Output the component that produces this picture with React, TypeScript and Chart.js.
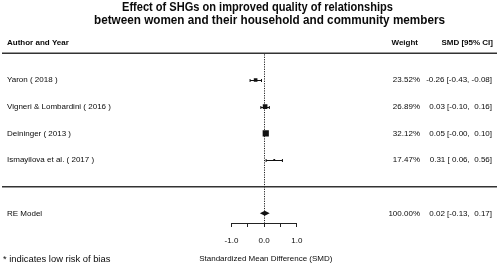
import React, { useEffect, useRef } from 'react';
import { Chart, registerables } from 'chart.js';

Chart.register(...registerables);

const titleLines = [
  'Effect of SHGs on improved quality of relationships',
  'between women and their household and community members',
];
const headers = ['Author and Year', 'Weight', 'SMD [95% CI]'];
const studies = [
  'Yaron ( 2018 )',
  'Vigneri & Lombardini ( 2016 )',
  'Deininger ( 2013 )',
  'Ismayilova et al. ( 2017 )',
];
const weights = [23.52, 26.89, 32.12, 17.47];
const smd = [-0.26, 0.03, 0.05, 0.31];
const ciLow = [-0.43, -0.1, -0.004, 0.06];
const ciHigh = [-0.08, 0.16, 0.1, 0.56];
const reLabel = 'RE Model';
const reWeight = 100.0;
const reSmd = 0.02;
const reLow = -0.13;
const reHigh = 0.17;
const xTicks = [-1, -0.5, 0, 0.5, 1];
const xTickLabels = ['-1.0', '', '0.0', '', '1.0'];
const xTitle = 'Standardized Mean Difference (SMD)';
const footnote = '* indicates low risk of bias';

const FONT = '"Liberation Sans", Arial, Helvetica, sans-serif';
const TEXT = '#0a0a0a';
const LINE = '#333';

const pad5 = (v: number) => {
  const s = v.toFixed(2);
  return s.length < 5 ? ' '.repeat(5 - s.length) + s : s;
};
const fmtCI = (e: number, lo: number, hi: number) =>
  `${e.toFixed(2)} [${pad5(lo)}, ${pad5(hi)}]`;

const minW = Math.min(...weights);
const maxW = Math.max(...weights);
const sideFor = (w: number) => 1.8 + ((w - minW) / (maxW - minW)) * 4.4;

const forestPlugin = {
  id: 'forest',
  beforeDatasetsDraw(chart: any) {
    const { ctx, scales, chartArea } = chart;
    const x = scales.x;
    const y = scales.y;
    ctx.save();
    ctx.strokeStyle = LINE;
    ctx.lineWidth = 1.5;
    [0, studies.length + 1].forEach((r) => {
      const py = y.getPixelForValue(r);
      ctx.beginPath();
      ctx.moveTo(2, py);
      ctx.lineTo(497, py);
      ctx.stroke();
    });
    const x0 = Math.round(x.getPixelForValue(0)) + 0.5;
    ctx.setLineDash([1.2, 1.2]);
    ctx.lineWidth = 1;
    ctx.strokeStyle = '#222';
    ctx.beginPath();
    ctx.moveTo(x0, y.getPixelForValue(0) + 1);
    ctx.lineTo(x0, chartArea.bottom);
    ctx.stroke();
    ctx.setLineDash([]);
    ctx.strokeStyle = '#111';
    ctx.lineWidth = 1;
    studies.forEach((_, i) => {
      const py = Math.round(y.getPixelForValue(i + 1)) + 0.5;
      const a = x.getPixelForValue(ciLow[i]);
      const b = x.getPixelForValue(ciHigh[i]);
      ctx.beginPath();
      ctx.moveTo(a, py);
      ctx.lineTo(b, py);
      ctx.moveTo(a, py - 1.5);
      ctx.lineTo(a, py + 1.5);
      ctx.moveTo(b, py - 1.5);
      ctx.lineTo(b, py + 1.5);
      ctx.stroke();
    });
    const ay = chartArea.bottom + 0.5;
    ctx.strokeStyle = '#222';
    ctx.beginPath();
    ctx.moveTo(x.getPixelForValue(xTicks[0]), ay);
    ctx.lineTo(x.getPixelForValue(xTicks[xTicks.length - 1]), ay);
    ctx.stroke();
    const ry = y.getPixelForValue(studies.length + 2);
    ctx.fillStyle = '#111';
    ctx.beginPath();
    ctx.moveTo(x.getPixelForValue(reLow), ry);
    ctx.lineTo(x.getPixelForValue(reSmd), ry - 2.5);
    ctx.lineTo(x.getPixelForValue(reHigh), ry);
    ctx.lineTo(x.getPixelForValue(reSmd), ry + 2.5);
    ctx.closePath();
    ctx.fill();
    ctx.restore();
  },
  afterDraw(chart: any) {
    const { ctx, scales } = chart;
    const y = scales.y;
    ctx.save();
    ctx.fillStyle = TEXT;
    ctx.textBaseline = 'middle';
    ctx.font = `bold 12px ${FONT}`;
    ctx.textAlign = 'center';
    ctx.fillText(titleLines[0], 257.5, 7.5, 271);
    ctx.fillText(titleLines[1], 269.5, 21, 351);
    const hy = y.getPixelForValue(-0.4);
    ctx.font = `bold 8px ${FONT}`;
    ctx.textAlign = 'left';
    ctx.fillText(headers[0], 7, hy);
    ctx.textAlign = 'right';
    ctx.fillText(headers[1], 418, hy);
    ctx.fillText(headers[2], 493, hy);
    ctx.font = `8px ${FONT}`;
    studies.forEach((s, i) => {
      const py = y.getPixelForValue(i + 1);
      ctx.textAlign = 'left';
      ctx.fillText(s, 7, py);
      ctx.textAlign = 'right';
      ctx.fillText(weights[i].toFixed(2) + '%', 420, py);
      ctx.fillText(fmtCI(smd[i], ciLow[i], ciHigh[i]), 492, py);
    });
    const ry = y.getPixelForValue(studies.length + 2);
    ctx.textAlign = 'left';
    ctx.fillText(reLabel, 7, ry);
    ctx.textAlign = 'right';
    ctx.fillText(reWeight.toFixed(2) + '%', 420, ry);
    ctx.fillText(fmtCI(reSmd, reLow, reHigh), 492, ry);
    ctx.font = `9.4px ${FONT}`;
    ctx.textAlign = 'left';
    ctx.fillText(footnote, 3, 259);
    ctx.restore();
  },
};

export default function App() {
  const ref = useRef<HTMLCanvasElement | null>(null);
  useEffect(() => {
    document.body.style.margin = '0';
    if (!ref.current) return;
    const chart = new Chart(ref.current, {
      type: 'scatter',
      data: {
        datasets: [
          {
            data: studies.map((_, i) => ({ x: smd[i], y: i + 1 })),
            pointStyle: 'rect',
            pointRadius: weights.map((w) => sideFor(w) / Math.SQRT2),
            backgroundColor: '#111',
            borderWidth: 0,
          },
        ],
      },
      options: {
        animation: false,
        responsive: false,
        maintainAspectRatio: false,
        devicePixelRatio: 1,
        layout: { padding: { top: 28, left: 36, right: 0, bottom: 0 } },
        plugins: {
          legend: { display: false },
          tooltip: { enabled: false },
          title: { display: false },
        },
        scales: {
          x: {
            type: 'linear',
            min: -(266.3 - 36) / 33,
            max: (500 - 266.3) / 33,
            afterBuildTicks: (s: any) => {
              s.ticks = xTicks.map((v) => ({ value: v }));
            },
            afterFit: (s: any) => {
              s.height = 44;
            },
            ticks: {
              autoSkip: false,
              maxRotation: 0,
              padding: 9,
              color: TEXT,
              font: { family: FONT, size: 8 },
              callback: (v: any) => {
                const i = xTicks.indexOf(Number(v));
                return i >= 0 ? xTickLabels[i] : '';
              },
            },
            grid: {
              drawOnChartArea: false,
              drawTicks: true,
              tickLength: 4,
              color: '#222',
              lineWidth: 1,
            },
            border: { display: false },
            title: {
              display: true,
              text: xTitle,
              color: TEXT,
              font: { family: FONT, size: 8 },
              padding: { top: 0, bottom: 3 },
            },
          },
          y: {
            type: 'linear',
            display: false,
            reverse: true,
            min: 1 - (80 - 28) / 26.67,
            max: 1 + (223 - 80) / 26.67,
          },
        },
      },
      plugins: [forestPlugin],
    });
    return () => chart.destroy();
  }, []);
  return <canvas ref={ref} width={500} height={267} style={{ display: 'block' }} />;
}
